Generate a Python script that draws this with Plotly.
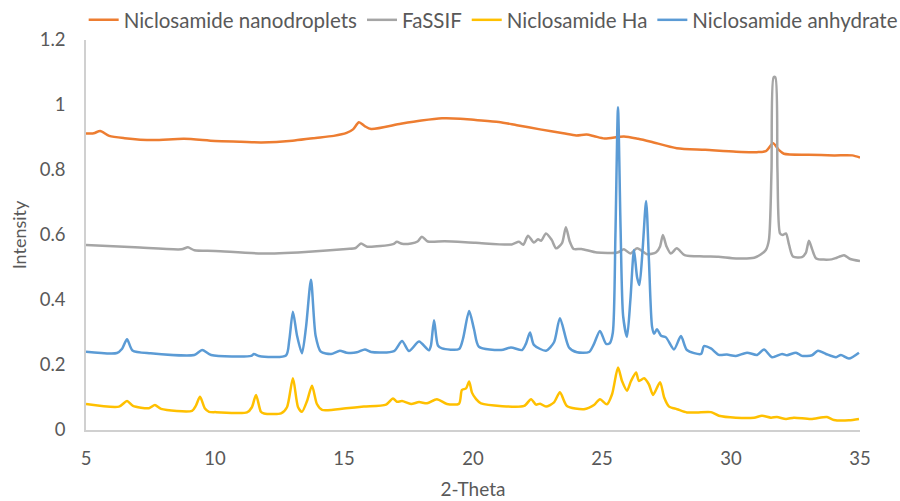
import plotly.graph_objects as go

# --- Niclosamide nanodroplets (orange)
nano_x = [5.0, 5.3, 5.55, 5.9, 6.5, 7.6, 8.8, 10.0, 11.0, 11.8, 13.0, 13.8, 14.6, 15.1, 15.35, 15.58, 15.8, 16.05,
          17.2, 18.0, 18.8, 19.5, 20.1, 21.0, 21.7, 22.6, 23.5, 24.0, 24.4, 24.7, 25.1, 25.85, 26.4, 26.9, 27.9,
          29.0, 30.2, 31.0, 31.35, 31.63, 31.85, 32.05, 33.0, 34.0, 34.7, 35.0]
nano_y = [0.912, 0.913, 0.920, 0.905, 0.898, 0.892, 0.896, 0.889, 0.887, 0.885, 0.890, 0.898, 0.905, 0.914, 0.925,
          0.947, 0.935, 0.926, 0.942, 0.952, 0.959, 0.958, 0.954, 0.948, 0.938, 0.925, 0.913, 0.906, 0.909, 0.904,
          0.897, 0.903, 0.896, 0.887, 0.867, 0.862, 0.856, 0.855, 0.858, 0.882, 0.862, 0.850, 0.847, 0.845, 0.845,
          0.838]

# --- FaSSIF (gray)
fassif_x = [5.0, 6.9, 8.7, 8.95, 9.2, 10.0, 11.8, 13.5, 15.1, 15.45, 15.66, 15.9, 16.9, 17.05, 17.25, 17.6, 17.85,
            18.02, 18.25, 18.9, 20.1, 21.5, 21.78, 21.95, 22.13, 22.36, 22.52, 22.64, 22.83, 23.05, 23.22, 23.45,
            23.6, 23.75, 23.9, 24.2, 24.8, 25.6, 25.85, 26.1, 26.36, 26.75, 27.1, 27.25, 27.36, 27.5, 27.67, 27.9,
            28.2, 28.95, 29.5, 30.2, 30.9, 31.15, 31.35, 31.47, 31.57, 31.65, 31.72, 31.8, 31.9, 32.0, 32.13,
            32.25, 32.4, 32.75, 32.9, 33.02, 33.15, 33.3, 33.9, 34.1, 34.38, 34.6, 35.0]
fassif_y = [0.569, 0.562, 0.556, 0.562, 0.553, 0.551, 0.543, 0.548, 0.557, 0.560, 0.574, 0.564, 0.572, 0.579,
            0.573, 0.574, 0.580, 0.595, 0.580, 0.581, 0.576, 0.571, 0.579, 0.570, 0.598, 0.577, 0.587, 0.582,
            0.605, 0.585, 0.559, 0.575, 0.624, 0.580, 0.557, 0.557, 0.546, 0.546, 0.556, 0.543, 0.559, 0.541,
            0.547, 0.565, 0.600, 0.565, 0.543, 0.559, 0.538, 0.534, 0.533, 0.528, 0.530, 0.540, 0.554, 0.585,
            0.80, 1.085, 1.085, 0.80, 0.605, 0.60, 0.605, 0.57, 0.534, 0.532, 0.545, 0.582, 0.555, 0.528, 0.525,
            0.530, 0.538, 0.527, 0.520]

# --- Niclosamide Ha (yellow)
ha_x = [5.0, 6.28, 6.59, 6.82, 7.44, 7.67, 7.91, 9.11, 9.26, 9.42, 9.61, 9.77, 10.04, 11.24, 11.43, 11.59, 11.78,
        11.9, 12.56, 12.79, 13.02, 13.22, 13.37, 13.57, 13.76, 13.95, 14.15, 15.08, 15.77, 16.63, 16.9, 17.05,
        17.25, 17.6, 17.91, 18.22, 18.6, 18.99, 19.46, 19.57, 19.73, 19.85, 19.96, 20.12, 20.31, 21.98, 22.25,
        22.44, 22.6, 22.83, 23.14, 23.37, 23.64, 24.3, 24.69, 24.92, 25.19, 25.39, 25.62, 25.78, 25.97, 26.12,
        26.32, 26.43, 26.63, 26.82, 26.98, 27.25, 27.41, 27.6, 27.91, 28.29, 28.68, 29.22, 29.53, 30.19, 30.89,
        31.2, 31.55, 31.78, 32.13, 32.44, 33.1, 33.72, 33.99, 34.57, 34.96]
ha_y = [0.080, 0.072, 0.089, 0.074, 0.067, 0.077, 0.065, 0.059, 0.075, 0.102, 0.066, 0.056, 0.055, 0.054, 0.070,
        0.108, 0.056, 0.051, 0.051, 0.070, 0.159, 0.070, 0.056, 0.090, 0.136, 0.080, 0.062, 0.067, 0.072, 0.078,
        0.097, 0.087, 0.089, 0.080, 0.086, 0.082, 0.095, 0.080, 0.081, 0.123, 0.128, 0.149, 0.115, 0.095, 0.082,
        0.074, 0.095, 0.078, 0.081, 0.072, 0.085, 0.116, 0.074, 0.064, 0.077, 0.095, 0.079, 0.110, 0.192, 0.150,
        0.121, 0.150, 0.177, 0.151, 0.159, 0.140, 0.108, 0.147, 0.100, 0.072, 0.064, 0.054, 0.054, 0.055, 0.044,
        0.038, 0.038, 0.044, 0.038, 0.040, 0.034, 0.038, 0.034, 0.040, 0.031, 0.030, 0.034]

# --- Niclosamide anhydrate (blue)
anh_x = [5.0, 6.2, 6.4, 6.59, 6.8, 7.5, 9.2, 9.5, 9.85, 11.4, 11.51, 11.7, 12.75, 12.88, 13.02, 13.18, 13.37,
         13.53, 13.72, 13.9, 14.1, 14.5, 14.84, 15.1, 15.5, 15.81, 16.05, 16.94, 17.25, 17.52, 17.91, 18.29, 18.37,
         18.49, 18.64, 18.8, 19.46, 19.61, 19.85, 20.04, 20.23, 21.09, 21.47, 21.9, 22.05, 22.21, 22.36, 22.83,
         23.14, 23.37, 23.72, 24.03, 24.5, 24.69, 24.92, 25.16, 25.3, 25.42, 25.52, 25.62, 25.72, 25.82, 25.97,
         26.1, 26.24, 26.36, 26.45, 26.57, 26.71, 26.82, 26.94, 27.02, 27.13, 27.29, 27.48, 27.79, 28.06, 28.29,
         28.84, 28.95, 29.22, 29.53, 29.84, 30.19, 30.62, 31.01, 31.28, 31.59, 31.98, 32.17, 32.52, 32.75, 33.14,
         33.37, 33.68, 34.07, 34.26, 34.57, 34.96]
anh_y = [0.241, 0.237, 0.250, 0.279, 0.245, 0.236, 0.231, 0.246, 0.231, 0.228, 0.234, 0.228, 0.229, 0.277, 0.364,
         0.290, 0.236, 0.318, 0.462, 0.290, 0.241, 0.234, 0.244, 0.238, 0.239, 0.248, 0.240, 0.243, 0.274, 0.243,
         0.272, 0.245, 0.260, 0.338, 0.260, 0.251, 0.249, 0.280, 0.366, 0.310, 0.256, 0.246, 0.254, 0.246, 0.265,
         0.300, 0.262, 0.244, 0.270, 0.344, 0.254, 0.239, 0.240, 0.265, 0.305, 0.265, 0.267, 0.300, 0.600, 0.993,
         0.620, 0.350, 0.287, 0.400, 0.554, 0.470, 0.446, 0.550, 0.705, 0.520, 0.318, 0.296, 0.310, 0.290, 0.285,
         0.248, 0.289, 0.246, 0.234, 0.258, 0.251, 0.231, 0.232, 0.228, 0.238, 0.231, 0.248, 0.224, 0.234, 0.230,
         0.238, 0.228, 0.230, 0.244, 0.234, 0.224, 0.231, 0.220, 0.238]

series = [
    ("Niclosamide nanodroplets", nano_x, nano_y, "#ED7D31"),
    ("FaSSIF", fassif_x, fassif_y, "#A5A5A5"),
    ("Niclosamide Ha", ha_x, ha_y, "#FFC000"),
    ("Niclosamide anhydrate", anh_x, anh_y, "#5B9BD5"),
]

fig = go.Figure()
for name, xs, ys, col in series:
    fig.add_trace(go.Scatter(x=xs, y=ys, name=name, mode="lines",
                             line=dict(color=col, width=2.5, shape="spline", smoothing=0.7)))

font_family = "Lato, 'Open Sans', sans-serif"
fig.update_layout(
    width=900, height=501,
    margin=dict(l=86, r=40, t=40, b=71, autoexpand=False),
    paper_bgcolor="white", plot_bgcolor="white",
    font=dict(family=font_family, size=18.5, color="#595959"),
    showlegend=True,
    legend=dict(orientation="h", x=-0.003, xanchor="left", y=1.0, yanchor="bottom",
                font=dict(size=20.5, color="#595959"), itemwidth=30, tracegroupgap=0,
                bgcolor="rgba(0,0,0,0)"),
    xaxis=dict(range=[5, 35], dtick=5, tick0=5, showgrid=False, zeroline=False,
               showline=True, linecolor="#D0D0D0", linewidth=1.5, ticks="",
               ticklabelstandoff=11, tickfont=dict(size=18.5),
               title=dict(text="2-Theta", font=dict(size=19, color="#595959"), standoff=15)),
    yaxis=dict(range=[0, 1.2], dtick=0.2, showgrid=False, zeroline=False,
               showline=True, linecolor="#D0D0D0", linewidth=1.5, ticks="",
               ticklabelstandoff=15, tickfont=dict(size=18.5),
               title=dict(text="Intensity", font=dict(size=18, color="#595959"), standoff=8)),
)

fig.write_html("out.html")
